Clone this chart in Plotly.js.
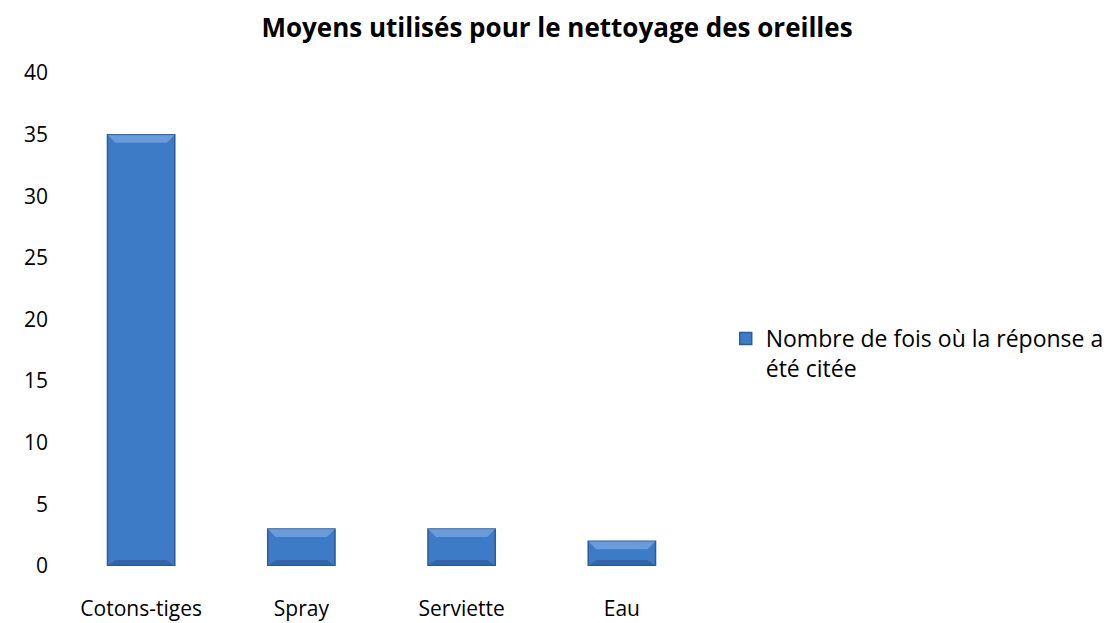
<!DOCTYPE html>
<html><head><meta charset="utf-8">
<script src="https://cdn.plot.ly/plotly-3.0.1.min.js"></script>
<style>html,body{margin:0;padding:0;background:#fff}#chart{width:1114px;height:623px}</style>
</head><body><div id="chart"></div>
<script>
const categories = ["Cotons-tiges", "Spray", "Serviette", "Eau"];
const values = [35, 3, 3, 2];
const seriesName = "Nombre de fois où la réponse a<br>été citée";
const yTicks = [0, 5, 10, 15, 20, 25, 30, 35, 40];

const font = "'Open Sans', 'Noto Sans', sans-serif";
const bargap = 0.58;
const w = 1 - bargap;
const bevel = 0.05;

// bevel highlights built from the data values (pixel-height bands anchored on each bar)
const shapes = [];
values.forEach((v, i) => {
  const l = i - w / 2, r = i + w / 2;
  shapes.push({type: "path", xref: "x", yref: "y", ysizemode: "pixel", yanchor: v,
    path: `M ${l},0 L ${r},0 L ${r - bevel},-8 L ${l + bevel},-8 Z`,
    fillcolor: "rgba(150,190,235,0.5)", line: {width: 0}, layer: "above"});
  shapes.push({type: "path", xref: "x", yref: "y", ysizemode: "pixel", yanchor: 0,
    path: `M ${l},0 L ${r},0 L ${r - bevel},6 L ${l + bevel},6 Z`,
    fillcolor: "rgba(30,70,130,0.4)", line: {width: 0}, layer: "above"});
});

const trace = {
  type: "bar", x: categories, y: values, name: seriesName,
  marker: {color: "#3d7bc6", line: {color: "#2b5b98", width: 1.5}},
  showlegend: true, hoverinfo: "x+y"
};
const layout = {
  width: 1114, height: 623,
  margin: {l: 61, r: 412, t: 73, b: 57, autoexpand: false},
  paper_bgcolor: "#fff", plot_bgcolor: "#fff",
  title: {text: "<b>Moyens utilisés pour le nettoyage des oreilles</b>", x: 0.5, xref: "container", xanchor: "center",
    y: 0.955, yanchor: "middle", font: {family: font, size: 26, color: "#000"}},
  font: {family: font, size: 21, color: "#000"},
  bargap: bargap,
  shapes: shapes,
  xaxis: {showline: false, showgrid: false, zeroline: false, ticks: "", tickfont: {size: 21}, ticklabelstandoff: 28},
  yaxis: {range: [0, 40], tickvals: yTicks, showgrid: false, zeroline: false, showline: false, ticks: "", tickfont: {size: 21}, ticklabelstandoff: 12},
  showlegend: true,
  legend: {x: 1.037, xanchor: "left", y: 0.505, yanchor: "top", font: {size: 23}, itemwidth: 30, valign: "top"}
};
Plotly.newPlot("chart", [trace], layout, {displayModeBar: false});
</script></body></html>
